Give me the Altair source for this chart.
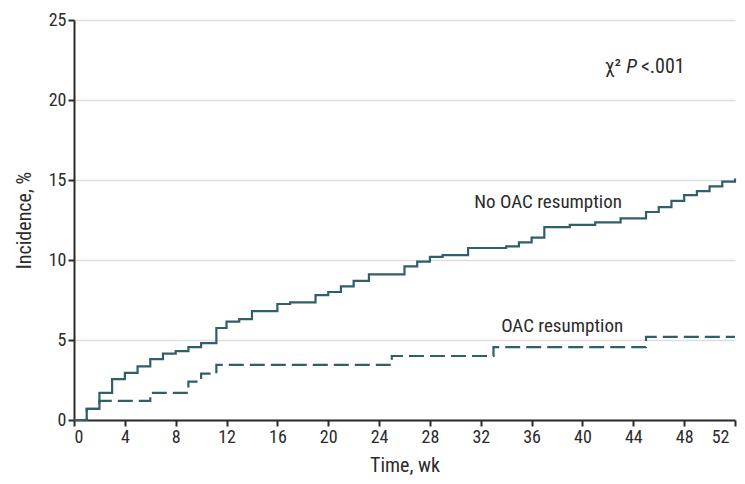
import altair as alt
import pandas as pd

# No OAC resumption (step-after points)
no_oac_weeks = [0, 1, 2, 3, 4, 5, 6, 7, 8, 9, 10, 11.2, 12, 13, 14, 16, 17, 19, 20, 21, 22, 23.2,
                26, 27, 28, 29, 31, 34, 35, 36, 37, 39, 41, 43, 45, 46, 47, 48, 49, 50, 51, 52]
no_oac_values = [0, 0.7, 1.7, 2.55, 2.95, 3.35, 3.8, 4.15, 4.3, 4.55, 4.8, 5.75, 6.15, 6.3, 6.8, 7.25, 7.35,
                 7.8, 8.0, 8.35, 8.7, 9.1, 9.6, 9.9, 10.2, 10.3, 10.75, 10.85, 11.1, 11.4, 12.05, 12.2,
                 12.35, 12.6, 13.0, 13.3, 13.7, 14.05, 14.3, 14.6, 14.9, 15.1]

# OAC resumption
oac_weeks = [0, 1, 2, 6, 9, 10, 11.2, 25, 33, 45, 52]
oac_values = [0, 0.7, 1.2, 1.7, 2.4, 2.9, 3.45, 4.0, 4.55, 5.2, 5.2]

x_ticks = list(range(0, 53, 4))
y_ticks = [0, 5, 10, 15, 20, 25]

FONT = "Liberation Sans Narrow, Roboto Condensed, Liberation Sans, sans-serif"
COLOR = "#2f5f69"
TXT = "#2b2b2b"
FS = 18
TFS = 20

df_no = pd.DataFrame({"week": no_oac_weeks, "value": no_oac_values})
df_oac = pd.DataFrame({"week": oac_weeks, "value": oac_values})

x_scale = alt.Scale(domain=[0, 52], nice=False, zero=False)
y_scale = alt.Scale(domain=[0, 25], nice=False)

x_enc = alt.X("week:Q", scale=x_scale,
              axis=alt.Axis(values=x_ticks, title="Time, wk", grid=False, domainColor=TXT,
                            domainWidth=2, tickColor=TXT, tickWidth=2, tickSize=6,
                            labelFontSize=FS, titleFontSize=TFS, labelColor=TXT, titleColor=TXT,
                            labelFont=FONT, titleFont=FONT, titleFontWeight="normal",
                            labelOffset={"expr": "datum.value == 52 ? -6 : 0"},
                            labelPadding=2, titlePadding=9))
y_enc = alt.Y("value:Q", scale=y_scale,
              axis=alt.Axis(values=y_ticks, title="Incidence, %", grid=True, gridColor="#dedede",
                            gridWidth=1.5, domainColor=TXT, domainWidth=2, tickColor=TXT,
                            tickWidth=2, tickSize=6, labelFontSize=FS, titleFontSize=TFS,
                            labelColor=TXT, titleColor=TXT, labelFont=FONT, titleFont=FONT,
                            titleFontWeight="normal", labelPadding=2, titlePadding=14))

line_no = alt.Chart(df_no).mark_line(interpolate="step-after", color=COLOR, strokeWidth=2.2).encode(
    x=x_enc, y=y_enc)
line_oac = alt.Chart(df_oac).mark_line(interpolate="step-after", color=COLOR, strokeWidth=2.2,
                                       strokeDash=[15, 6]).encode(x="week:Q", y="value:Q")

ann_labels = ["No OAC resumption", "OAC resumption"]
ann_x = [37.3, 38.4]
ann_y = [13.6, 5.85]
ann = alt.Chart(pd.DataFrame({"t": ann_labels, "x": ann_x, "y": ann_y})).mark_text(
    font=FONT, fontSize=19, color=TXT, align="center", baseline="middle").encode(
    x="x:Q", y="y:Q", text="t:N")

p_parts = ["χ²", "P", "<.001"]
p_x = [41.75, 43.45, 44.6]
p_y = 22.05


def ptext(i, style):
    d = pd.DataFrame({"t": [p_parts[i]], "x": [p_x[i]], "y": [p_y]})
    return alt.Chart(d).mark_text(font=FONT, fontSize=20, color=TXT, align="left",
                                  baseline="middle", fontStyle=style).encode(
        x="x:Q", y="y:Q", text="t:N")


chart = alt.layer(line_no, line_oac, ann, ptext(0, "normal"), ptext(1, "italic"),
                  ptext(2, "normal")).properties(
    width=661, height=400,
    autosize=alt.AutoSizeParams(type="none"),
    padding={"left": 66, "top": 12, "right": 2, "bottom": 56},
    background="white",
).configure_view(stroke=None)

chart.save("out.html", embed_options={"renderer": "svg", "actions": False})
